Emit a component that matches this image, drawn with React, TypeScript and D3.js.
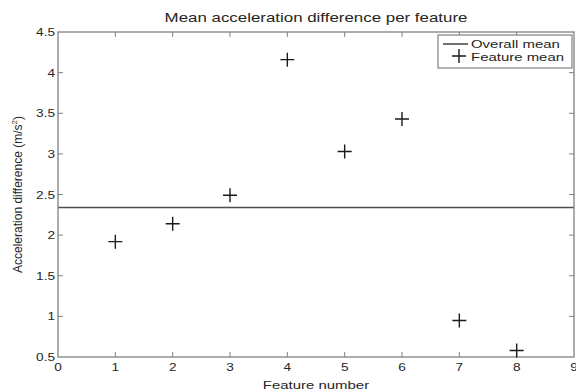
import React from 'react';
import * as d3 from 'd3';

const features = [1, 2, 3, 4, 5, 6, 7, 8];
const featureMeans = [1.92, 2.14, 2.49, 4.16, 3.03, 3.43, 0.95, 0.58];
const overallMean = 2.34;
const xTicks = [0, 1, 2, 3, 4, 5, 6, 7, 8, 9];
const yTicks = [0.5, 1, 1.5, 2, 2.5, 3, 3.5, 4, 4.5];
const legendLabels = ['Overall mean', 'Feature mean'];

const width = 576;
const height = 391;
const margin = { top: 32, right: 2, bottom: 34, left: 58 };
const SX = 1.3; // the source picture is stretched sideways
const font = '"Liberation Sans", Arial, sans-serif';
const axisColor = '#808080';
const textColor = '#262626';

const Label = ({ x, y, anchor = 'middle', size, children }: any) => (
  <text
    transform={`translate(${x},${y}) scale(${SX},1)`}
    textAnchor={anchor}
    fontSize={size}
    fontFamily={font}
    fill={textColor}
  >
    {children}
  </text>
);

const Plus = ({ x, y }: { x: number; y: number }) => (
  <path d={`M${x - 7},${y}H${x + 7}M${x},${y - 7}V${y + 7}`} stroke="#1a1a1a" strokeWidth={1.4} />
);

export default function App() {
  const x = d3.scaleLinear().domain([0, 9]).range([margin.left, width - margin.right]);
  const y = d3.scaleLinear().domain([0.5, 4.5]).range([height - margin.bottom, margin.top]);
  const [x0, x1] = x.range();
  const [y0, y1] = y.range();
  const tk = 5;

  const lx = 438, ly = 35, lw = 134, lh = 33;

  return (
    <svg width={width} height={height} style={{ position: 'absolute', left: 0, top: 0, background: '#fff' }}>
      <Label x={(x0 + x1) / 2} y={22} size={13}>Mean acceleration difference per feature</Label>

      {/* overall mean line */}
      <line x1={x0} x2={x1} y1={y(overallMean)} y2={y(overallMean)} stroke="#4d4d4d" strokeWidth={1.6} />

      {/* axes box */}
      <rect x={x0} y={y1} width={x1 - x0} height={y0 - y1} fill="none" stroke={axisColor} strokeWidth={1.3} />

      {xTicks.map(t => (
        <g key={'x' + t}>
          {t > 0 && t < 9 && (
            <>
              <line x1={x(t)} x2={x(t)} y1={y0} y2={y0 - tk} stroke={axisColor} />
              <line x1={x(t)} x2={x(t)} y1={y1} y2={y1 + tk} stroke={axisColor} />
            </>
          )}
          <Label x={x(t)} y={y0 + 14} size={10.5}>{t}</Label>
        </g>
      ))}

      {yTicks.map(t => (
        <g key={'y' + t}>
          {t > 0.5 && t < 4.5 && (
            <>
              <line x1={x0} x2={x0 + tk} y1={y(t)} y2={y(t)} stroke={axisColor} />
              <line x1={x1} x2={x1 - tk} y1={y(t)} y2={y(t)} stroke={axisColor} />
            </>
          )}
          <Label x={x0 - 3} y={y(t) + 4} anchor="end" size={10.5}>{t}</Label>
        </g>
      ))}

      <Label x={(x0 + x1) / 2} y={389} size={11.5}>Feature number</Label>

      <text
        transform={`translate(22,${(y0 + y1) / 2}) rotate(-90)`}
        textAnchor="middle"
        fontSize={12}
        fontFamily={font}
        fill={textColor}
      >
        Acceleration difference (m/s<tspan fontSize={8} dy={-5}>2</tspan><tspan dy={5}>)</tspan>
      </text>

      {features.map((f, i) => (
        <Plus key={f} x={x(f)} y={y(featureMeans[i])} />
      ))}

      {/* legend */}
      <rect x={lx} y={ly} width={lw} height={lh} fill="#fff" stroke={axisColor} strokeWidth={1.2} />
      <line x1={lx + 5} x2={lx + 30} y1={ly + 9} y2={ly + 9} stroke="#4d4d4d" strokeWidth={1.6} />
      <Plus x={lx + 21} y={ly + 21} />
      <Label x={lx + 33} y={ly + 13} anchor="start" size={11.5}>{legendLabels[0]}</Label>
      <Label x={lx + 33} y={ly + 26} anchor="start" size={11.5}>{legendLabels[1]}</Label>
    </svg>
  );
}
